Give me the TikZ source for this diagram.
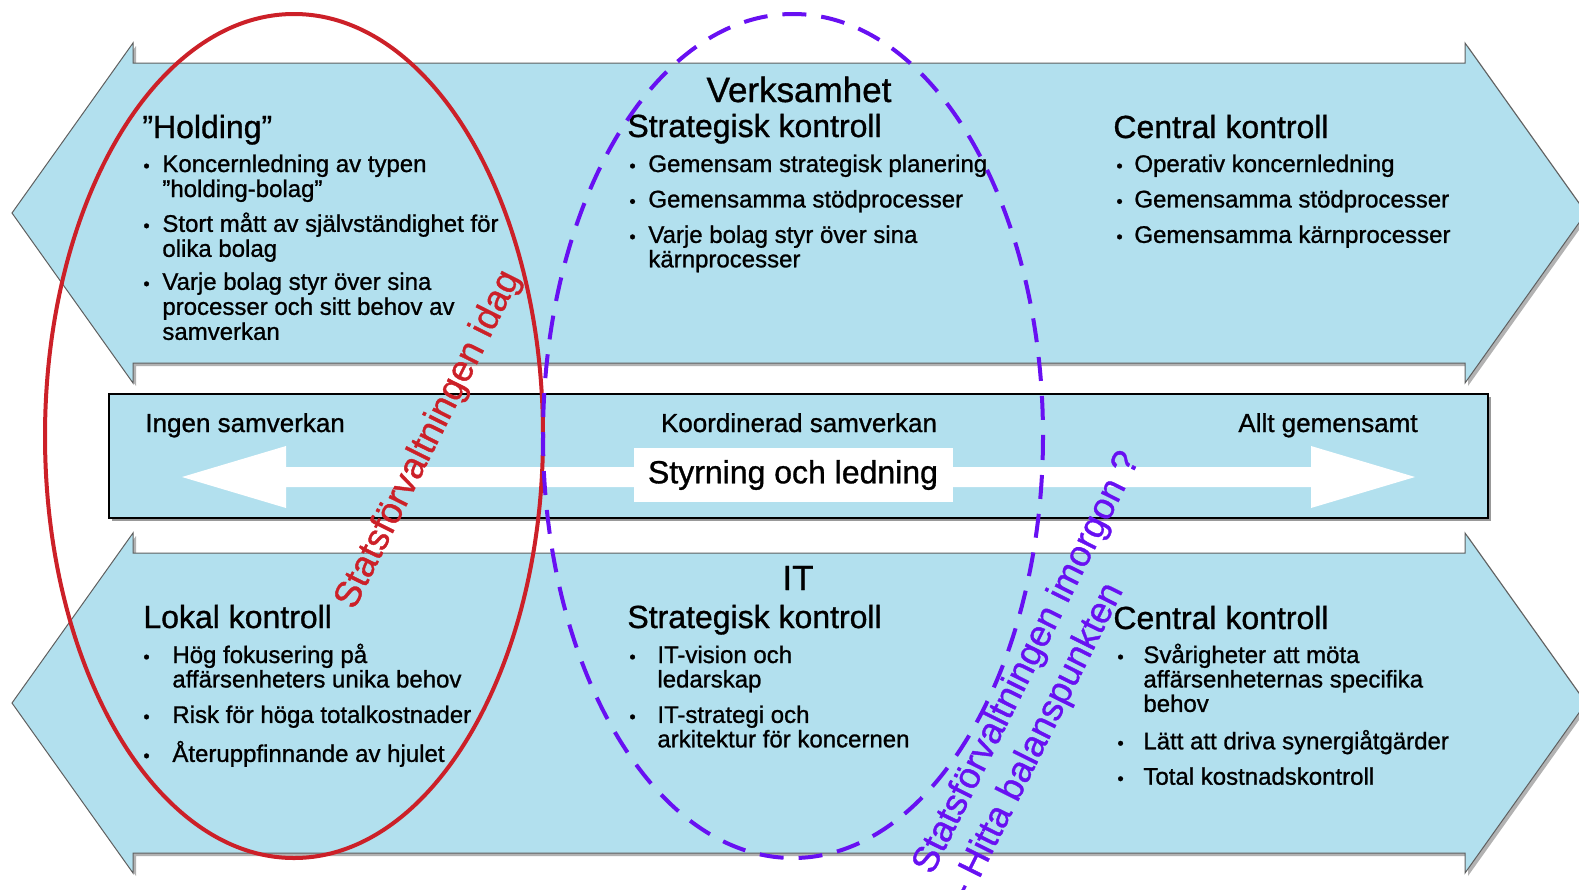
\documentclass[tikz,border=0pt]{standalone}
\usepackage{fontspec}
\setmainfont{Liberation Sans}[FakeBold=1]
\usepackage{array}
\definecolor{bandblue}{RGB}{178,224,238}
\definecolor{edgegray}{RGB}{95,95,95}
\definecolor{ringred}{RGB}{204,32,40}
\definecolor{ringblue}{RGB}{104,16,242}
\tikzset{
 band/.style={fill=bandblue, draw=edgegray, line width=0.5pt},
 head/.style={font=\fontsize{16}{18}\selectfont, inner sep=0pt, anchor=base west},
 title/.style={font=\fontsize{17.5}{20}\selectfont, inner sep=0pt, anchor=base},
 scalelabel/.style={font=\fontsize{13}{15}\selectfont, inner sep=0pt},
 bullets/.style={font=\fontsize{12}{11.75}\selectfont, inner sep=0pt, anchor=base west},
 ring/.style={line width=2pt},
 note/.style={font=\fontsize{18.3}{21}\selectfont, inner sep=0pt, anchor=base west, rotate=63.5},
 }
\newcommand{\bul}{{\fontsize{9}{9}\selectfont\textbullet}}
\newcommand{\gap}{\\[5.5pt]}

\begin{document}
\begin{tikzpicture}[x=0.5pt, y=-0.5pt]
        \useasboundingbox (0,0) rectangle (1579,889);
        % Verksamhet (top) and IT (bottom) arrows
        \foreach \yc in {213,703} {
            \fill[black!30, shift={(3,3)}] (12,\yc) -- (133,\yc-170) -- (133,\yc-150) -- (1465,\yc-150) -- (1465,\yc-170) -- (1586,\yc) -- (1465,\yc+170) -- (1465,\yc+150) -- (133,\yc+150) -- (133,\yc+170) -- cycle;
            \draw[band] (12,\yc) -- (133,\yc-170) -- (133,\yc-150) -- (1465,\yc-150) -- (1465,\yc-170) -- (1586,\yc) -- (1465,\yc+170) -- (1465,\yc+150) -- (133,\yc+150) -- (133,\yc+170) -- cycle;
        }

        % scale in the middle
        \fill[black!40] (112,397) rectangle (1491,521);
        \draw[fill=bandblue, line width=1.1pt] (109,394) rectangle (1488,518);
        \fill[white] (182,477) -- (286,446) -- (286,467) -- (1311,467) -- (1311,446) -- (1415,477) -- (1311,508) -- (1311,487) -- (286,487) -- (286,508) -- cycle;
        \node[fill=white, inner sep=0pt, minimum width=159.5pt, minimum height=27pt, font=\fontsize{16}{18}\selectfont] (styr) at (793,475) {Styrning och ledning};
        \node[scalelabel, anchor=base west] (ingen) at (145,432) {Ingen samverkan};
        \node[scalelabel, anchor=base] (koord) at (799,432) {Koordinerad samverkan};
        \node[scalelabel, anchor=base east] (allt) at (1418,432) {Allt gemensamt};

        % Verksamhet
        \node[title] (verk) at (799,102) {Verksamhet};
        \node[head] (holding) at (142,138) {”Holding”};
        \node[bullets, font=\fontsize{12}{12.5}\selectfont] (holdlist) at (143,172) {\begin{tabular}[t]{@{}p{9.5pt}@{}l@{}}
            \bul & Koncernledning av typen\\
                 & ”holding-bolag”\\[4pt]
            \bul & Stort mått av självständighet för\\
                 & olika bolag\\[4pt]
            \bul & Varje bolag styr över sina\\
                 & processer och sitt behov av\\
                 & samverkan
        \end{tabular}};
        \node[head] (strat1) at (627,137) {Strategisk kontroll};
        \node[bullets] (stratlist1) at (629,172) {\begin{tabular}[t]{@{}p{9.5pt}@{}l@{}}
            \bul & Gemensam strategisk planering\gap
            \bul & Gemensamma stödprocesser\gap
            \bul & Varje bolag styr över sina\\
                 & kärnprocesser
        \end{tabular}};
        \node[head] (cent1) at (1113,138) {Central kontroll};
        \node[bullets] (centlist1) at (1116,172) {\begin{tabular}[t]{@{}p{9pt}@{}l@{}}
            \bul & Operativ koncernledning\gap
            \bul & Gemensamma stödprocesser\gap
            \bul & Gemensamma kärnprocesser
        \end{tabular}};

        % IT
        \node[title] (it) at (798,590) {IT};
        \node[head] (lokal) at (143,628) {Lokal kontroll};
        \node[bullets] (lokallist) at (143,663) {\begin{tabular}[t]{@{}p{14.5pt}@{}l@{}}
            \bul & Hög fokusering på\\
                 & affärsenheters unika behov\gap
            \bul & Risk för höga totalkostnader\gap
            \bul & Återuppfinnande av hjulet
        \end{tabular}};
        \node[head] (strat2) at (627,628) {Strategisk kontroll};
        \node[bullets] (stratlist2) at (629,663) {\begin{tabular}[t]{@{}p{14pt}@{}l@{}}
            \bul & IT-vision och\\
                 & ledarskap\gap
            \bul & IT-strategi och\\
                 & arkitektur för koncernen
        \end{tabular}};
        \node[head] (cent2) at (1113,629) {Central kontroll};
        \node[bullets] (centlist2) at (1117,663) {\begin{tabular}[t]{@{}p{13pt}@{}l@{}}
            \bul & Svårigheter att möta\\
                 & affärsenheternas specifika\\
                 & behov\gap
            \bul & Lätt att driva synergiåtgärder\gap
            \bul & Total kostnadskontroll
        \end{tabular}};

        % today and tomorrow
        \draw[ring, ringred] (294,436) ellipse [x radius=249, y radius=422];
        \draw[ring, ringblue, dash pattern=on 12pt off 7.5pt] (793,436) ellipse [x radius=250, y radius=422];
        \node[note, text=ringred] (idag) at (354,611) {Statsförvaltningen idag};
        \node[note, text=ringblue] (imorgon) at (932,876) {Statsförvaltningen imorgon ?};
        \node[note, text=ringblue] (balans) at (969,900) {- Hitta balanspunkten};
    \end{tikzpicture}
\end{document}
